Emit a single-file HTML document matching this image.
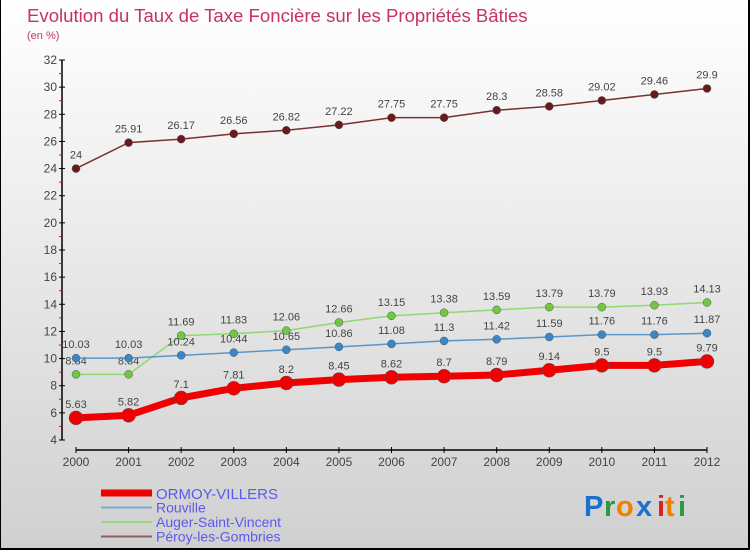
<!DOCTYPE html>
<html><head><meta charset="utf-8"><style>
body{margin:0}
#wrap{position:relative;width:750px;height:550px;background:linear-gradient(#ffffff,#d0d0d0);box-sizing:border-box;border:1px solid #000;border-width:0 2px 2px 1px;font-family:"Liberation Sans",sans-serif;overflow:hidden}
svg text{font-family:"Liberation Sans",sans-serif}
</style></head><body>
<div id="wrap">
<svg id="c" width="750" height="550">
<text x="26" y="22" font-size="18.6" fill="#c8306a">Evolution du Taux de Taxe Foncière sur les Propriétés Bâties</text>
<text x="26" y="39" font-size="11" fill="#c8306a">(en %)</text>
<g font-size="29" font-weight="bold">
<text x="583" y="516" fill="#1a6fd0">P</text><text x="603" y="516" fill="#2a9a3a">r</text><text x="615" y="516" fill="#f08000">o</text><text x="635" y="516" fill="#1a6fd0">x</text><text x="656" y="516" fill="#e02020">i</text><text x="664" y="516" fill="#f08000">t</text><text x="677" y="516" fill="#2a9a3a">i</text>
</g>
</svg>
</div>
<script>
const years=[2000,2001,2002,2003,2004,2005,2006,2007,2008,2009,2010,2011,2012];
const ormoy=[5.63,5.82,7.1,7.81,8.2,8.45,8.62,8.7,8.79,9.14,9.5,9.5,9.79];
const rouville=[10.03,10.03,10.24,10.44,10.65,10.86,11.08,11.3,11.42,11.59,11.76,11.76,11.87];
const auger=[8.84,8.84,11.69,11.83,12.06,12.66,13.15,13.38,13.59,13.79,13.79,13.93,14.13];
const peroy=[24,25.91,26.17,26.56,26.82,27.22,27.75,27.75,28.3,28.58,29.02,29.46,29.9];
const yTicks=[4,6,8,10,12,14,16,18,20,22,24,26,28,30,32];
const NS='http://www.w3.org/2000/svg';
const svg=document.getElementById('c');
const X=i=>75+i*(706-75)/(years.length-1);
const Y=v=>440-(v-4)*(380/28);
function el(t,a,p){const e=document.createElementNS(NS,t);for(const k in a)e.setAttribute(k,a[k]);(p||svg).appendChild(e);return e;}
const ax=el('line',{x1:61,y1:60,x2:61,y2:440,stroke:'#000','stroke-width':1.5});


const xa=el('line',{x1:75,y1:450,x2:706,y2:450,stroke:'#000','stroke-width':1.5});


yTicks.forEach(v=>{
 el('line',{x1:58,x2:64,y1:Y(v),y2:Y(v),stroke:'#000'});
 if(v<32)el('line',{x1:58,x2:61,y1:Y(v+1),y2:Y(v+1),stroke:'#f00'});
 const t=el('text',{x:56,y:Y(v)+4,'font-size':12,fill:'#444','text-anchor':'end'});
 t.textContent=v;
 
 
});
years.forEach((y,i)=>{
 el('line',{x1:X(i),x2:X(i),y1:447,y2:453,stroke:'#000'});
 const t=el('text',{x:X(i),y:466,'font-size':12,fill:'#444','text-anchor':'middle'});
 t.textContent=y;
 
 
});
function series(data,color,dot,w,r,name){
 const g=el('g',{});
 
 
 el('polyline',{points:data.map((v,i)=>X(i)+','+Y(v)).join(' '),fill:'none',stroke:color,'stroke-width':w},g);
 data.forEach((v,i)=>{
  const c=el('circle',{cx:X(i),cy:Y(v),r:r,fill:dot,stroke:'#555','stroke-width':0.5},g);
  
  
  const t=el('text',{x:X(i),y:Y(v)-10,'font-size':11,fill:'#444','text-anchor':'middle'},g);
  t.textContent=v;
  
  
 });
}
series(peroy,'#7a3030','#6a1a1a',1.5,4,'peroy-series');
series(auger,'#90d870','#70c840',1.5,4,'auger-series');
series(rouville,'#5a96c8','#3a86c8',1.5,4,'rouville-series');
series(ormoy,'#f00000','#f00000',7,7,'ormoy-series');
const leg=[['ORMOY-VILLERS','#f00000',7,15],['Rouville','#7aaad0',2,14],['Auger-Saint-Vincent','#98d880',2,14],['Péroy-les-Gombries','#906060',2,14]];
leg.forEach((l,i)=>{
 const y=493+i*14.5;
 const g=el('g',{});
 
 
 el('line',{x1:100,x2:151,y1:y,y2:y,stroke:l[1],'stroke-width':l[2]},g);
 const t=el('text',{x:155,y:y+(i==0?6:5),'font-size':l[3],fill:'#5a5af0'},g);
 t.textContent=l[0];
});
</script>
</body></html>
